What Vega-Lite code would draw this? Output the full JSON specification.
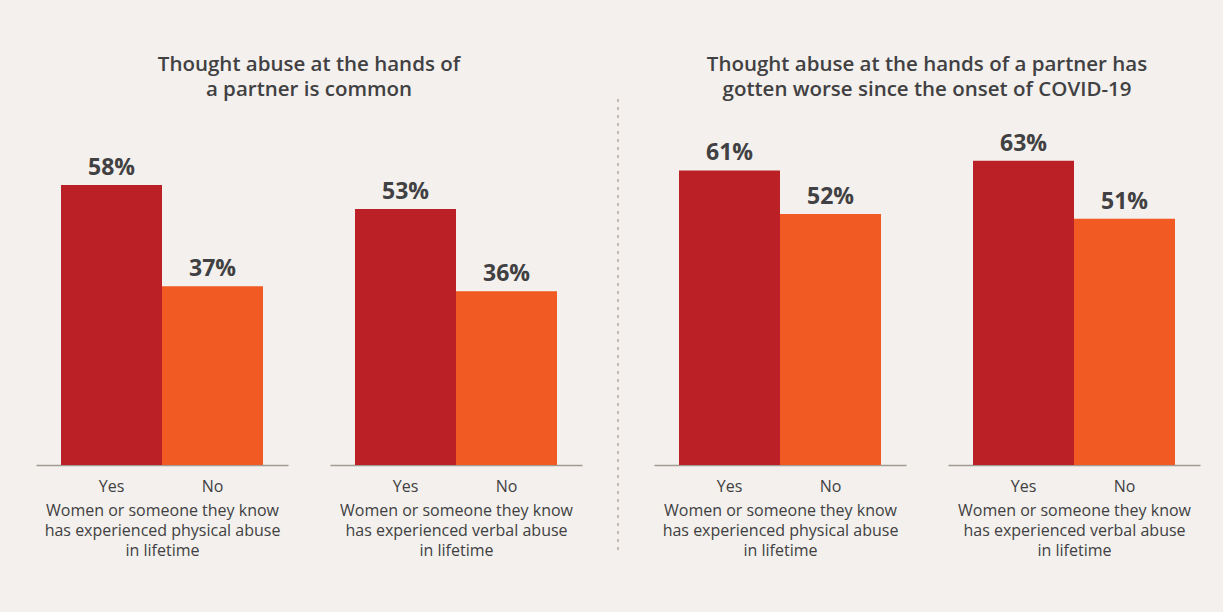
{
  "$schema": "https://vega.github.io/schema/vega-lite/v6.json",
  "background": "#f3f0ed",
  "padding": {"left": 36, "top": 54, "right": 30, "bottom": 60},
  "datasets": {
    "d": [
      {"q": "common", "abuse": "physical", "answer": "Yes", "value": 0.58},
      {"q": "common", "abuse": "physical", "answer": "No", "value": 0.37},
      {"q": "common", "abuse": "verbal", "answer": "Yes", "value": 0.53},
      {"q": "common", "abuse": "verbal", "answer": "No", "value": 0.36},
      {"q": "worse", "abuse": "physical", "answer": "Yes", "value": 0.61},
      {"q": "worse", "abuse": "physical", "answer": "No", "value": 0.52},
      {"q": "worse", "abuse": "verbal", "answer": "Yes", "value": 0.63},
      {"q": "worse", "abuse": "verbal", "answer": "No", "value": 0.51}
    ]
  },
  "spacing": 26,
  "hconcat": [
    {
      "title": {"text": ["Thought abuse at the hands of", "a partner is common"]},
      "spacing": 42,
      "bounds": "flush",
      "hconcat": [
        {
          "width": 252, "height": 338,
          "data": {"name": "d"},
          "transform": [{"filter": "datum.q == 'common' && datum.abuse == 'physical'"}],
          "encoding": {
            "x": {"field": "answer", "type": "nominal", "sort": ["Yes", "No"], "scale": {"paddingInner": 0, "paddingOuter": 0.2475},
                  "axis": {"title": ["Women or someone they know", "has experienced physical abuse", "in lifetime"]}},
            "y": {"field": "value", "type": "quantitative", "scale": {"domain": [0, 0.7]}, "axis": null}
          },
          "layer": [
            {"mark": {"type": "bar"}, "encoding": {"color": {"field": "answer", "type": "nominal", "scale": {"domain": ["Yes", "No"], "range": ["#bb2026", "#f15a22"]}, "legend": null}}},
            {"mark": {"type": "text", "baseline": "bottom", "dy": -5, "fontWeight": "bold", "fontSize": 23, "font": "Open Sans", "color": "#414042"}, "encoding": {"text": {"field": "value", "format": ".0%"}}}
          ]
        },
        {
          "width": 252, "height": 338,
          "data": {"name": "d"},
          "transform": [{"filter": "datum.q == 'common' && datum.abuse == 'verbal'"}],
          "encoding": {
            "x": {"field": "answer", "type": "nominal", "sort": ["Yes", "No"], "scale": {"paddingInner": 0, "paddingOuter": 0.2475},
                  "axis": {"title": ["Women or someone they know", "has experienced verbal abuse", "in lifetime"]}},
            "y": {"field": "value", "type": "quantitative", "scale": {"domain": [0, 0.7]}, "axis": null}
          },
          "layer": [
            {"mark": {"type": "bar"}, "encoding": {"color": {"field": "answer", "type": "nominal", "scale": {"domain": ["Yes", "No"], "range": ["#bb2026", "#f15a22"]}, "legend": null}}},
            {"mark": {"type": "text", "baseline": "bottom", "dy": -5, "fontWeight": "bold", "fontSize": 23, "font": "Open Sans", "color": "#414042"}, "encoding": {"text": {"field": "value", "format": ".0%"}}}
          ]
        }
      ]
    },
    {
      "width": 0, "height": 423,
      "data": {"name": "d"},
      "mark": {"type": "rule", "color": "#c5bab0", "strokeDash": [3, 5], "strokeWidth": 1.5, "y2Offset": -29},
      "encoding": {
        "y": {"datum": 0, "type": "quantitative", "scale": {"domain": [0, 1], "nice": false, "zero": false}, "axis": null},
        "y2": {"datum": 1}
      }
    },
    {
      "title": {"text": ["Thought abuse at the hands of a partner has", "gotten worse since the onset of COVID-19"]},
      "spacing": 42,
      "bounds": "flush",
      "hconcat": [
        {
          "width": 252, "height": 338,
          "data": {"name": "d"},
          "transform": [{"filter": "datum.q == 'worse' && datum.abuse == 'physical'"}],
          "encoding": {
            "x": {"field": "answer", "type": "nominal", "sort": ["Yes", "No"], "scale": {"paddingInner": 0, "paddingOuter": 0.2475},
                  "axis": {"title": ["Women or someone they know", "has experienced physical abuse", "in lifetime"]}},
            "y": {"field": "value", "type": "quantitative", "scale": {"domain": [0, 0.7]}, "axis": null}
          },
          "layer": [
            {"mark": {"type": "bar"}, "encoding": {"color": {"field": "answer", "type": "nominal", "scale": {"domain": ["Yes", "No"], "range": ["#bb2026", "#f15a22"]}, "legend": null}}},
            {"mark": {"type": "text", "baseline": "bottom", "dy": -5, "fontWeight": "bold", "fontSize": 23, "font": "Open Sans", "color": "#414042"}, "encoding": {"text": {"field": "value", "format": ".0%"}}}
          ]
        },
        {
          "width": 252, "height": 338,
          "data": {"name": "d"},
          "transform": [{"filter": "datum.q == 'worse' && datum.abuse == 'verbal'"}],
          "encoding": {
            "x": {"field": "answer", "type": "nominal", "sort": ["Yes", "No"], "scale": {"paddingInner": 0, "paddingOuter": 0.2475},
                  "axis": {"title": ["Women or someone they know", "has experienced verbal abuse", "in lifetime"]}},
            "y": {"field": "value", "type": "quantitative", "scale": {"domain": [0, 0.7]}, "axis": null}
          },
          "layer": [
            {"mark": {"type": "bar"}, "encoding": {"color": {"field": "answer", "type": "nominal", "scale": {"domain": ["Yes", "No"], "range": ["#bb2026", "#f15a22"]}, "legend": null}}},
            {"mark": {"type": "text", "baseline": "bottom", "dy": -5, "fontWeight": "bold", "fontSize": 23, "font": "Open Sans", "color": "#414042"}, "encoding": {"text": {"field": "value", "format": ".0%"}}}
          ]
        }
      ]
    }
  ],
  "config": {
    "view": {"stroke": null},
    "font": "Open Sans",
    "title": {"fontSize": 20.5, "fontWeight": 600, "color": "#414042", "lineHeight": 25, "anchor": "middle", "offset": 27, "font": "Open Sans"},
    "axis": {
      "domainColor": "#a39a92", "domainWidth": 1.5, "ticks": false, "grid": false,
      "labelAngle": 0, "labelFontSize": 16, "labelColor": "#414042", "labelFont": "Open Sans", "labelPadding": 13,
      "titleFontSize": 16, "titleFontWeight": "normal", "titleColor": "#414042", "titleFont": "Open Sans", "titleLineHeight": 20, "titlePadding": 8
    }
  }
}
